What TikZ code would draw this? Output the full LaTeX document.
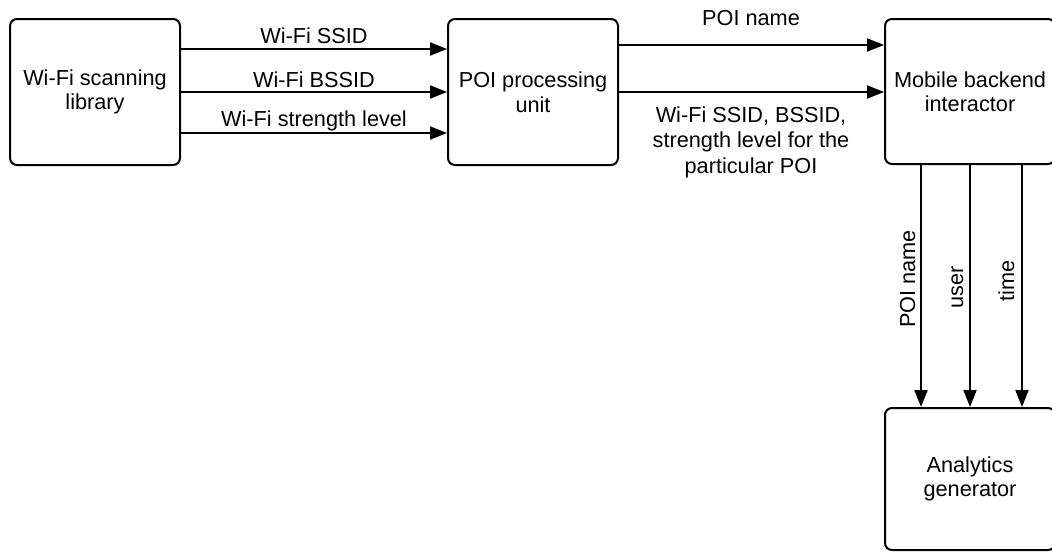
\documentclass[tikz,border=0pt]{standalone}
\usepackage{fontspec}
\setmainfont{Liberation Sans}
\usetikzlibrary{arrows.meta}
\begin{document}
\begin{tikzpicture}[x=1pt,y=-1pt,
  block/.style={draw=black, line width=2pt, rounded corners=7pt, align=center,
    font=\fontsize{21.7}{24.5}\selectfont, inner sep=0pt,
    minimum width=170pt},
  flow/.style={draw=black, line width=2pt, -{Triangle[length=17pt,width=13pt]}},
  lbl/.style={font=\fontsize{21.7}{25.5}\selectfont, inner sep=0pt, align=center}]
\useasboundingbox (0,0) rectangle (1052,552);

% processing blocks
\node[block, minimum height=146pt] (scan) at (95,92) {Wi-Fi scanning\\library};
\node[block, minimum height=146pt] (poi) at (533,92) {POI processing\\unit};
\node[block, minimum height=145pt] (mob) at (970,91.5) {Mobile backend\\interactor};
\node[block, minimum height=142pt] (ana) at (970,479) {Analytics\\generator};

% scanner -> POI unit
\draw[flow] (scan.east |- 0,49) -- (poi.west |- 0,49);
\draw[flow] (scan.east |- 0,92) -- (poi.west |- 0,92);
\draw[flow] (scan.east |- 0,133) -- (poi.west |- 0,133);
\node[lbl, anchor=base] (l1) at (314,43) {Wi-Fi SSID};
\node[lbl, anchor=base] (l2) at (314,87) {Wi-Fi BSSID};
\node[lbl, anchor=base] (l3) at (314,126) {Wi-Fi strength level};

% POI unit -> backend
\draw[flow] (poi.east |- 0,45) -- (mob.west |- 0,45);
\draw[flow] (poi.east |- 0,92) -- (mob.west |- 0,92);
\node[lbl, anchor=base] (l4) at (751,25) {POI name};
\node[lbl, anchor=north] (l5) at (751,106.5) {Wi-Fi SSID, BSSID,\\strength level for the\\particular POI};

% backend -> analytics
\draw[flow] (mob.south -| 921,0) -- (ana.north -| 921,0);
\draw[flow] (mob.south -| 970,0) -- (ana.north -| 970,0);
\draw[flow] (mob.south -| 1022,0) -- (ana.north -| 1022,0);
\node[lbl, rotate=90, anchor=base] (l6) at (915,279) {POI name};
\node[lbl, rotate=90, anchor=base] (l7) at (963,287) {user};
\node[lbl, rotate=90, anchor=base] (l8) at (1014,281) {time};
\end{tikzpicture}
\end{document}
